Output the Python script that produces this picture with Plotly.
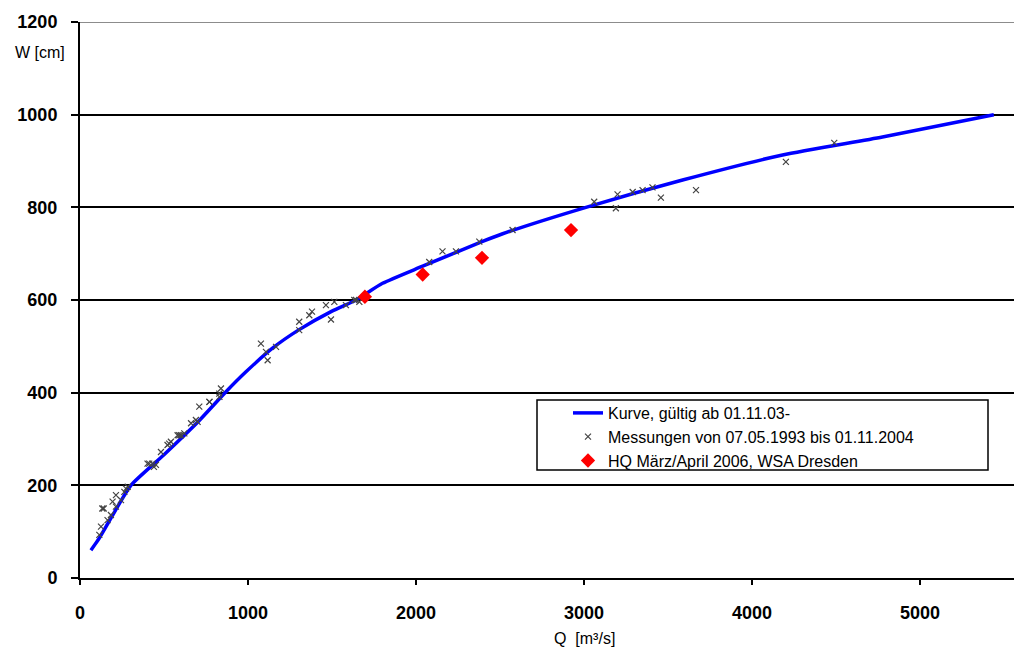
import plotly.graph_objects as go

# Rating curve (Kurve)
curve_q = [65, 115, 224, 303, 500, 700, 869, 988, 1146, 1300, 1500, 1643, 1801, 2040, 2393, 2516, 3012, 3587, 4182, 4777, 5440]
curve_w = [60, 86, 154, 200, 266, 336, 402, 445, 496, 535, 576, 600, 636, 673, 726, 743, 800, 859, 913, 952, 1000]

# Measurements 1993-2004
meas_q = [115, 125, 133, 141, 164, 184, 194, 214, 214, 244, 264, 274, 284, 402, 412, 432, 440, 452, 482, 521,
          531, 541, 581, 591, 601, 621, 661, 690, 700, 710, 770, 771, 829, 830, 839,
          1077, 1107, 1117, 1167, 1305, 1305, 1365, 1381, 1464, 1494, 1514, 1583, 1633, 1643, 1663,
          2079, 2158, 2238, 2377, 2575, 3061, 3190, 3200, 3290, 3349, 3408, 3458, 3667, 4202, 4490]
meas_w = [93, 111, 150, 150, 125, 136, 165, 154, 179, 168, 186, 193, 197, 247, 247, 247, 240, 244, 272, 287,
          290, 294, 308, 308, 308, 312, 334, 341, 337, 370, 380, 380, 398, 391, 409,
          506, 488, 470, 499, 553, 535, 567, 575, 589, 558, 596, 589, 600, 600, 596,
          682, 705, 705, 726, 751, 812, 798, 828, 833, 837, 843, 821, 837, 898, 939]

# HQ March/April 2006
hq_q = [1696, 2040, 2393, 2923]
hq_w = [607, 655, 691, 751]

x_ticks = [0, 1000, 2000, 3000, 4000, 5000]
y_ticks = [0, 200, 400, 600, 800, 1000, 1200]

L, R, T, B = 80, 0, 22, 70
W, H = 1014, 648
pw, ph = W - L - R, H - T - B

def px(x):
    return (x - L) / pw

def py(y):
    return (H - B - y) / ph

fig = go.Figure()
fig.add_trace(go.Scatter(x=curve_q, y=curve_w, mode="lines",
                         line=dict(color="#0000ff", width=3.5, shape="spline", smoothing=0.6),
                         name="Kurve, gültig ab 01.11.03-"))
fig.add_trace(go.Scatter(x=meas_q, y=meas_w, mode="markers",
                         marker=dict(symbol="x-thin", size=6, line=dict(width=1.2, color="#444444"), color="#444444"),
                         name="Messungen von 07.05.1993 bis 01.11.2004"))
fig.add_trace(go.Scatter(x=hq_q, y=hq_w, mode="markers",
                         marker=dict(symbol="diamond", size=11, color="#ff0000"),
                         name="HQ März/April 2006, WSA Dresden"))

tickfont = dict(family="Liberation Sans", size=18, color="black")

fig.update_layout(
    width=W, height=H,
    margin=dict(l=L, r=R, t=T, b=B),
    paper_bgcolor="white", plot_bgcolor="white",
    font=dict(family="Liberation Sans", color="black"),
    xaxis=dict(range=[0, 5560], tickvals=x_ticks,
               ticktext=[f"<b>{v}</b>" for v in x_ticks],
               showgrid=False, zeroline=False, showline=True, linecolor="black", linewidth=2,
               ticks="outside", ticklen=5, tickcolor="black", tickwidth=1.5, tickfont=tickfont,
               ticklabelstandoff=12),
    yaxis=dict(range=[0, 1200], tickvals=y_ticks,
               ticktext=[f"<b>{v}</b>" for v in y_ticks],
               showgrid=True, gridcolor="black", gridwidth=2, zeroline=False,
               showline=True, linecolor="black", linewidth=2,
               ticks="outside", ticklen=7, tickcolor="black", tickwidth=1.5, tickfont=tickfont,
               ticklabelstandoff=10),
    legend=dict(x=px(568), y=py(396), xanchor="left", yanchor="top",
                bgcolor="rgba(0,0,0,0)", borderwidth=0,
                font=dict(family="Liberation Sans", size=16, color="black"),
                itemwidth=30, tracegroupgap=0),
    showlegend=True,
    shapes=[
        dict(type="rect", xref="paper", yref="paper",
             x0=px(537), x1=px(988), y0=py(470), y1=py(400),
             line=dict(color="black", width=1.5), fillcolor="rgba(0,0,0,0)", layer="above"),
        dict(type="line", xref="paper", yref="y", x0=0, x1=1, y0=1200, y1=1200,
             line=dict(color="#8c8c8c", width=2), layer="below"),
    ],
    annotations=[
        dict(text="W [cm]", xref="paper", yref="paper", x=px(67), y=py(53), xanchor="right", yanchor="middle",
             showarrow=False, font=dict(family="Liberation Sans", size=16, color="black")),
        dict(text="Q  [m³/s]", xref="paper", yref="paper", x=px(584), y=py(638), xanchor="center", yanchor="middle",
             showarrow=False, font=dict(family="Liberation Sans", size=16, color="black")),
    ],
)

fig.write_html("out.html")
